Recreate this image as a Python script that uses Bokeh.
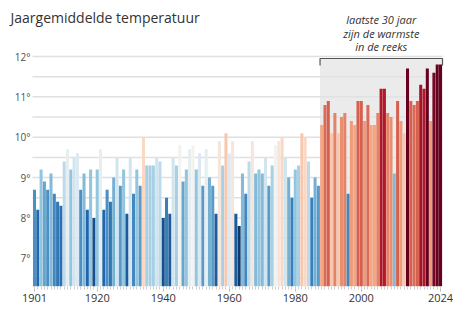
from bokeh.plotting import figure
from bokeh.models import ColumnDataSource, FixedTicker
from bokeh.core.properties import value
from bokeh.embed import file_html
from bokeh.resources import INLINE

# ---------------- data ----------------
TITLE = "Jaargemiddelde temperatuur"
NOTE_LINES = ["laatste 30 jaar", "zijn de warmste", "in de reeks"]
FIRST_YEAR = 1901
TEMPS = [
    8.7, 8.2, 9.2, 8.9, 8.7, 9.1, 8.6, 8.4, 8.3, 9.4,      # 1901-1910
    9.7, 9.2, 9.5, 9.6, 8.7, 9.1, 8.2, 9.2, 8.0, 9.2,      # 1911-1920
    9.7, 8.2, 8.7, 8.4, 9.0, 9.5, 8.8, 9.2, 8.1, 9.5,      # 1921-1930
    8.6, 9.2, 8.8, 10.0, 9.3, 9.3, 9.3, 9.5, 9.4, 8.0,     # 1931-1940
    8.5, 8.1, 9.5, 9.3, 9.8, 8.9, 9.2, 9.7, 9.8, 9.2,      # 1941-1950
    9.6, 8.8, 9.7, 9.0, 8.8, 8.1, 9.9, 9.3, 10.1, 9.6,     # 1951-1960
    9.9, 8.1, 7.8, 9.1, 8.6, 9.4, 9.9, 9.1, 9.2, 9.1,      # 1961-1970
    9.5, 8.8, 9.3, 9.8, 9.9, 10.0, 9.5, 9.0, 8.5, 9.2,     # 1971-1980
    9.3, 10.1, 10.0, 9.4, 8.5, 9.0, 8.8, 10.3, 10.8, 10.9, # 1981-1990
    10.1, 10.6, 10.1, 10.5, 10.6, 8.6, 10.4, 10.3, 10.9, 10.9,  # 1991-2000
    10.4, 10.8, 10.3, 10.3, 10.6, 11.2, 11.2, 10.6, 10.5, 9.1,  # 2001-2010
    10.9, 10.4, 10.1, 11.7, 10.9, 10.8, 10.9, 11.3, 11.2, 11.7, # 2011-2020
    10.4, 11.6, 11.8, 11.8,                                     # 2021-2024
]
YEARS = list(range(FIRST_YEAR, FIRST_YEAR + len(TEMPS)))
X_TICKS = [1901, 1920, 1940, 1960, 1980, 2000, 2024]
Y_TICKS = [7, 8, 9, 10, 11, 12]
Y_TICK_LABELS = ["7°", "8°", "9°", "10°", "11°", "12°"]
GRID_TICKS = [6.5, 7, 7.5, 8, 8.5, 9, 9.5, 10, 10.5, 11, 11.5, 12]
HIGHLIGHT_START = 1988
HIGHLIGHT_END = 2024

# ---------------- style ----------------
STOP_VALUES = [7.8, 8.2, 8.7, 9.2, 9.5, 9.8, 10.0, 10.3, 10.9, 11.2, 11.7]
STOP_COLORS = ["#0b3a6c", "#2166ac", "#4a90c2", "#92c5de", "#d1e5f0", "#f2f2f0",
               "#fad8c4", "#f4a582", "#d6604d", "#b2182b", "#67001f"]


def _hex(c):
    return tuple(int(c[i:i + 2], 16) for i in (1, 3, 5))


def temp_color(t):
    if t <= STOP_VALUES[0]:
        return STOP_COLORS[0]
    if t >= STOP_VALUES[-1]:
        return STOP_COLORS[-1]
    for i in range(len(STOP_VALUES) - 1):
        a, b = STOP_VALUES[i], STOP_VALUES[i + 1]
        if a <= t <= b:
            f = (t - a) / (b - a)
            ca, cb = _hex(STOP_COLORS[i]), _hex(STOP_COLORS[i + 1])
            rgb = [round(ca[k] + (cb[k] - ca[k]) * f) for k in range(3)]
            return "#%02x%02x%02x" % tuple(rgb)
    return STOP_COLORS[-1]


FONT = "Open Sans"
# layout (data-space extents of the frame)
X_MIN, X_MAX = 1890.70, 2027.93
Y_MIN, Y_MAX = 6.30, 13.388
GRID_X0 = 1900.39            # where gridlines start (just right of tick labels)
LABEL_X = 1899.79            # right edge of y tick labels
TITLE_X, TITLE_Y = 1893.73, 12.967
NOTE_Y0, NOTE_STEP = 12.917, 0.335
BRACKET_Y = 11.95
BRACKET_TICK = 0.17

src = ColumnDataSource(dict(year=YEARS, temp=TEMPS, color=[temp_color(t) for t in TEMPS]))

p = figure(width=453, height=308, x_range=(X_MIN, X_MAX), y_range=(Y_MIN, Y_MAX),
           output_backend="svg", toolbar_location=None, y_axis_location=None,
           min_border_left=0, min_border_right=0, min_border_top=0, min_border_bottom=22)
p.outline_line_color = None
p.background_fill_color = "white"
p.border_fill_color = "white"
p.xgrid.visible = False
p.ygrid.visible = False

box_left = HIGHLIGHT_START - 0.5
box_right = HIGHLIGHT_END + 0.6

# horizontal grid lines
p.segment(x0=GRID_X0, x1=box_right, y0=GRID_TICKS, y1=GRID_TICKS,
          line_color="#e0e0e0", line_width=1.5)

# highlight region
p.quad(left=[box_left], right=[box_right], top=[BRACKET_Y], bottom=[Y_MIN],
       fill_color="#e2e2e2", fill_alpha=0.7, line_color=None)

# bars
p.vbar(x="year", top="temp", bottom=Y_MIN, width=0.92, fill_color="color",
       line_color=None, source=src)

# bracket
p.line(x=[box_left, box_left, box_right, box_right],
       y=[BRACKET_Y - BRACKET_TICK, BRACKET_Y, BRACKET_Y, BRACKET_Y - BRACKET_TICK],
       line_color="#555555", line_width=1.2)

# y tick labels
p.text(x=LABEL_X, y=Y_TICKS, text=Y_TICK_LABELS, text_align="right", text_baseline="middle",
       text_font=value(FONT), text_font_size="10px", text_color="#505050")

# note text
note_x = (box_left + box_right) / 2
p.text(x=note_x, y=[NOTE_Y0 - i * NOTE_STEP for i in range(len(NOTE_LINES))], text=NOTE_LINES,
       text_align="center", text_baseline="middle", text_font=value(FONT),
       text_font_style="italic", text_font_size="11px", text_color="#333333")

# title
p.text(x=[TITLE_X], y=[TITLE_Y], text=[TITLE], text_align="left", text_baseline="middle",
       text_font=value(FONT), text_font_size="14px", text_color="#333333")

# x axis
p.xaxis.ticker = FixedTicker(ticks=X_TICKS, minor_ticks=YEARS)
p.xaxis.axis_line_color = None
p.xaxis.major_tick_line_color = "#b8b8b8"
p.xaxis.minor_tick_line_color = "#cfcfcf"
p.xaxis.major_tick_out = 5
p.xaxis.major_tick_in = 0
p.xaxis.minor_tick_out = 3
p.xaxis.minor_tick_in = 0
p.xaxis.major_label_standoff = 2
p.xaxis.major_label_text_font = FONT
p.xaxis.major_label_text_font_size = "11px"
p.xaxis.major_label_text_color = "#333333"

open("out.html", "w").write(file_html(p, INLINE))
